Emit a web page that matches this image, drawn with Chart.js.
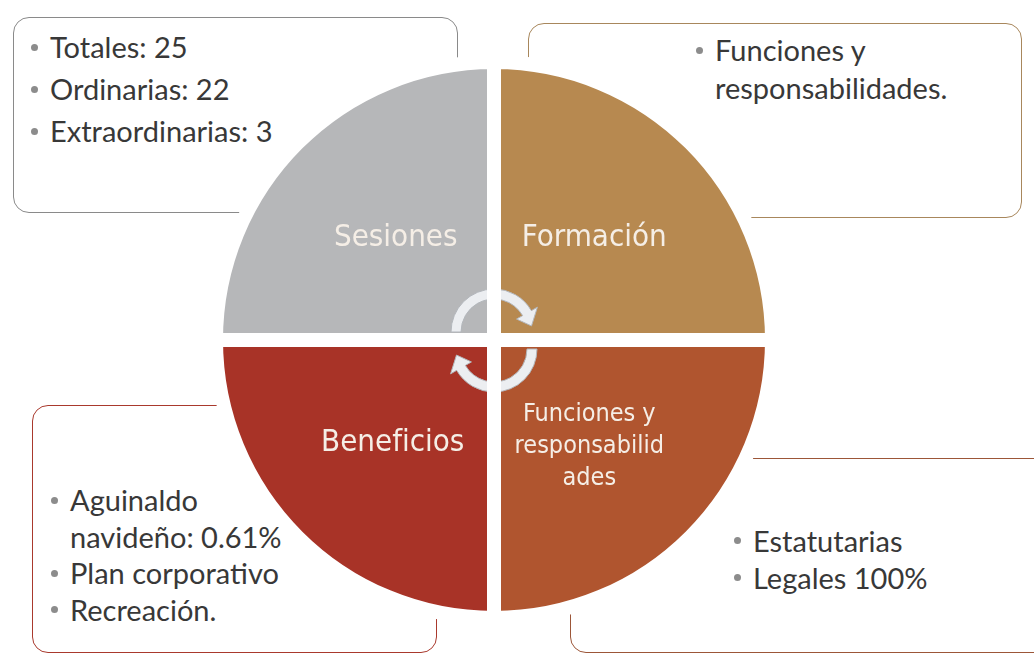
<!DOCTYPE html>
<html lang="es">
<head>
<meta charset="UTF-8">
<title>Sesiones, Formación, Funciones y Beneficios</title>
<script src="https://cdn.jsdelivr.net/npm/chart.js"></script>
<style>
    body {
        margin: 0;
        width: 1034px;
        height: 655px;
        background: #ffffff;
        position: relative;
        overflow: hidden;
        font-family: 'Lato', sans-serif;
    }
    .box {
        position: absolute;
        border: 1.5px solid #8c8c8c;
        border-radius: 16px;
        box-sizing: border-box;
        z-index: 0;
    }
    .notes {
        position: absolute;
        list-style: none;
        margin: 0;
        padding: 0;
        z-index: 0;
        color: #383838;
        font-size: 29px;
        white-space: pre-line;
    }
    .notes li {
        position: relative;
        padding-left: 19px;
    }
    .notes li::before {
        content: '';
        position: absolute;
        left: 0;
        top: calc(var(--lh) / 2 - 3.5px);
        width: 7px;
        height: 7px;
        border-radius: 50%;
        background: #8c8c8c;
    }
    .pie {
        position: absolute;
        left: 209px;
        top: 55px;
        width: 570px;
        height: 570px;
        z-index: 1;
    }
</style>
</head>
<body>
<div class="pie"><canvas id="cycleChart"></canvas></div>
<script>
    // quadrants, read clockwise from the top-left one
    const categories = ['Sesiones', 'Formación', 'Funciones y responsabilidades', 'Beneficios'];
    const shares = [25, 25, 25, 25];
    const sliceLabels = [['Sesiones'], ['Formación'], ['Funciones y', 'responsabilid', 'ades'], ['Beneficios']];
    const sliceColors = ['#b6b7b9', '#b78950', '#b0552f', '#a83327'];

    // bullet notes in the corner boxes (same order)
    const notes = [
        ['Totales: 25', 'Ordinarias: 22', 'Extraordinarias: 3'],
        ['Funciones y\nresponsabilidades.'],
        ['Estatutarias', 'Legales 100%'],
        ['Aguinaldo\nnavideño: 0.61%', 'Plan corporativo', 'Recreación.']
    ];

    // styling of the quadrant titles: font size, line gap, nudge
    const titleStyle = [
        { size: 31, gap: 32, dx: 0, dy: -4 },
        { size: 31, gap: 32, dx: 2, dy: -4 },
        { size: 25, gap: 32, dx: -3, dy: 8 },
        { size: 31, gap: 32, dx: -3, dy: 5 }
    ];

    // layout of the boxes and their text
    const boxLayout = [
        { left: 13, top: 17, width: 445, height: 196, border: '#8a8a8a' },
        { left: 528, top: 23, width: 494, height: 195, border: '#a8875c' },
        { left: 570, top: 458, width: 480, height: 195, border: '#9c5638' },
        { left: 32, top: 405, width: 405, height: 248, border: '#a9392d' }
    ];
    const noteLayout = [
        { left: 31, top: 26, lineHeight: 42 },
        { left: 696, top: 31, lineHeight: 38 },
        { left: 734, top: 522, lineHeight: 37 },
        { left: 51, top: 482, lineHeight: 36.5 }
    ];

    boxLayout.forEach(function (b, i) {
        let box = document.createElement('div');
        box.className = 'box';
        box.style.left = b.left + 'px';
        box.style.top = b.top + 'px';
        box.style.width = b.width + 'px';
        box.style.height = b.height + 'px';
        box.style.borderColor = b.border;
        document.body.appendChild(box);

        let n = noteLayout[i];
        let ul = document.createElement('ul');
        ul.className = 'notes';
        ul.style.left = n.left + 'px';
        ul.style.top = n.top + 'px';
        ul.style.lineHeight = n.lineHeight + 'px';
        ul.style.setProperty('--lh', n.lineHeight + 'px');
        notes[i].forEach(function (t) {
            let li = document.createElement('li');
            li.textContent = t;
            ul.appendChild(li);
        });
        document.body.appendChild(ul);
    });

    // one curved arrow: band of width w around radius r, head at angle a1
    function drawArrow(ctx, cx, cy, r, w, a0, a1) {
        const ro = r + w / 2, ri = r - w / 2;
        const aH = a1 - 0.36;
        const wing = 7;
        ctx.beginPath();
        ctx.arc(cx, cy, ro, a0, aH);
        ctx.lineTo(cx + (ro + wing) * Math.cos(aH), cy + (ro + wing) * Math.sin(aH));
        ctx.lineTo(cx + r * Math.cos(a1), cy + r * Math.sin(a1));
        ctx.lineTo(cx + (ri - wing) * Math.cos(aH), cy + (ri - wing) * Math.sin(aH));
        ctx.arc(cx, cy, ri, aH, a0, true);
        ctx.closePath();
        ctx.fillStyle = '#eceef1';
        ctx.fill();
        ctx.strokeStyle = '#b3b7bc';
        ctx.lineWidth = 1;
        ctx.stroke();
    }

    const cyclePlugin = {
        id: 'cycle',
        afterDatasetsDraw(chart) {
            const ctx = chart.ctx;
            const arcs = chart.getDatasetMeta(0).data;
            const cx = arcs[0].x, cy = arcs[0].y;
            const gap = 7, big = 120;

            // circular arrows, kept out of the white cross
            ctx.save();
            ctx.beginPath();
            ctx.rect(cx - big, cy - big, big - gap, big - gap);
            ctx.rect(cx + gap, cy - big, big - gap, big - gap);
            ctx.rect(cx - big, cy + gap, big - gap, big - gap);
            ctx.rect(cx + gap, cy + gap, big - gap, big - gap);
            ctx.clip();
            drawArrow(ctx, cx, cy - 8, 38, 10, Math.PI, 2 * Math.PI - 0.16);
            drawArrow(ctx, cx, cy + 9, 38, 10, 0, Math.PI - 0.16);
            ctx.restore();

            // quadrant titles
            ctx.save();
            ctx.fillStyle = '#f5eee6';
            ctx.textAlign = 'center';
            ctx.textBaseline = 'middle';
            arcs.forEach(function (arc, i) {
                const p = arc.tooltipPosition();
                const s = titleStyle[i];
                const lines = sliceLabels[i];
                ctx.font = s.size + 'px "DejaVu Sans Condensed", "Liberation Sans Narrow", sans-serif';
                lines.forEach(function (line, k) {
                    ctx.fillText(line, p.x + s.dx, p.y + s.dy + (k - (lines.length - 1) / 2) * s.gap);
                });
            });
            ctx.restore();
        }
    };

    new Chart(document.getElementById('cycleChart'), {
        type: 'pie',
        data: {
            labels: categories,
            datasets: [{
                data: shares,
                backgroundColor: sliceColors,
                borderColor: '#ffffff',
                borderWidth: 14,
                hoverOffset: 0
            }]
        },
        options: {
            responsive: true,
            maintainAspectRatio: false,
            animation: false,
            rotation: -90,
            events: [],
            layout: { padding: 0 },
            plugins: {
                legend: { display: false },
                tooltip: { enabled: false }
            }
        },
        plugins: [cyclePlugin]
    });
</script>
</body>
</html>
